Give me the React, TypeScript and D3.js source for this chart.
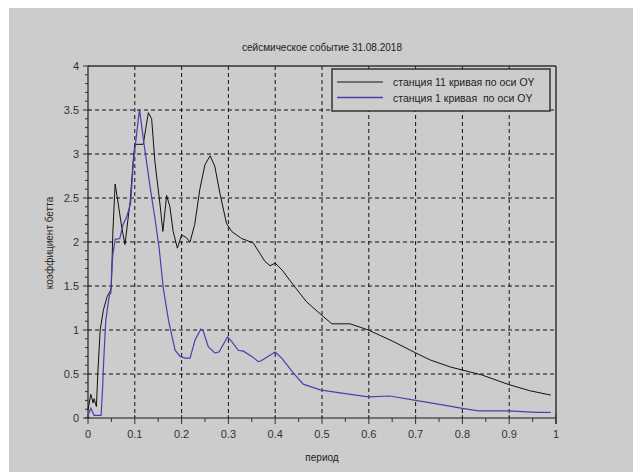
import React from 'react';
import * as d3 from 'd3';

// станция 11 (black)
const station11Period = [0, 0.006, 0.011, 0.013, 0.018, 0.021, 0.026, 0.033, 0.041, 0.048, 0.05, 0.053, 0.058, 0.065, 0.072, 0.079, 0.09, 0.097, 0.1, 0.118, 0.129, 0.136, 0.143, 0.154, 0.16, 0.168, 0.175, 0.182, 0.191, 0.2, 0.21, 0.218, 0.228, 0.239, 0.25, 0.261, 0.271, 0.282, 0.296, 0.307, 0.328, 0.353, 0.378, 0.389, 0.4, 0.415, 0.439, 0.467, 0.499, 0.521, 0.56, 0.599, 0.652, 0.7, 0.731, 0.774, 0.8, 0.841, 0.899, 0.944, 0.989];
const station11Beta = [0.09, 0.27, 0.17, 0.22, 0.13, 0.51, 1.0, 1.23, 1.38, 1.45, 1.5, 2.1, 2.66, 2.42, 2.17, 1.97, 2.46, 2.95, 3.11, 3.11, 3.47, 3.4, 2.91, 2.42, 2.12, 2.53, 2.4, 2.12, 1.93, 2.08, 2.05, 2.0, 2.2, 2.6, 2.88, 2.98, 2.86, 2.55, 2.21, 2.12, 2.04, 1.99, 1.78, 1.73, 1.76, 1.68, 1.51, 1.32, 1.17, 1.07, 1.07, 1.0, 0.87, 0.74, 0.66, 0.58, 0.545, 0.49, 0.38, 0.31, 0.26];

// станция 1 (blue)
const station1Period = [0, 0.006, 0.013, 0.028, 0.031, 0.034, 0.038, 0.043, 0.046, 0.049, 0.05, 0.053, 0.058, 0.068, 0.075, 0.083, 0.091, 0.097, 0.11, 0.118, 0.132, 0.143, 0.152, 0.161, 0.172, 0.186, 0.197, 0.207, 0.218, 0.229, 0.241, 0.246, 0.257, 0.271, 0.28, 0.298, 0.307, 0.321, 0.332, 0.35, 0.364, 0.37, 0.4, 0.414, 0.439, 0.46, 0.496, 0.546, 0.599, 0.645, 0.7, 0.745, 0.8, 0.834, 0.899, 0.959, 0.989];
const station1Beta = [0.03, 0.11, 0.03, 0.03, 0.32, 0.7, 1.11, 1.3, 1.4, 1.42, 1.6, 1.85, 2.03, 2.04, 2.2, 2.29, 2.44, 2.91, 3.51, 3.18, 2.65, 2.27, 1.93, 1.47, 1.11, 0.77, 0.7, 0.68, 0.68, 0.89, 1.01, 0.99, 0.81, 0.74, 0.75, 0.92, 0.87, 0.77, 0.76, 0.7, 0.64, 0.65, 0.75, 0.68, 0.51, 0.385, 0.32, 0.28, 0.24, 0.25, 0.2, 0.16, 0.11, 0.08, 0.08, 0.065, 0.065];

const xTicks = [0, 0.1, 0.2, 0.3, 0.4, 0.5, 0.6, 0.7, 0.8, 0.9, 1];
const yTicks = [0, 0.5, 1, 1.5, 2, 2.5, 3, 3.5, 4];
const legendLabels = ['станция 11 кривая по оси OY', 'станция 1 кривая  по оси OY'];
const seriesColors = ['#111111', '#4b3fae'];

const W = 636;
const H = 472;
const left = 88, right = 556, top = 66, bottom = 418;
const font = '"Liberation Sans", Arial, sans-serif';

export default function App() {
  const x = d3.scaleLinear().domain([0, 1]).range([left, right]);
  const y = d3.scaleLinear().domain([0, 4]).range([bottom, top]);

  const line = d3.line<[number, number]>().x((d) => x(d[0])).y((d) => y(d[1]));
  const s11 = station11Period.map((p, i) => [p, station11Beta[i]] as [number, number]);
  const s1 = station1Period.map((p, i) => [p, station1Beta[i]] as [number, number]);

  const xMinor = d3.range(0.05, 1, 0.1);
  const yMinor = d3.range(0, 4.0001, 0.1).filter((v) => Math.abs(v * 2 - Math.round(v * 2)) > 1e-6);

  return (
    <svg width={W} height={H} style={{ position: 'absolute', left: 0, top: 0 }} fontFamily={font}>
      <rect x={0} y={0} width={W} height={H} fill="#ffffff" />
      <rect x={9} y={8} width={624} height={464} fill="#cccccc" />

      <text x={(left + right) / 2} y={51} textAnchor="middle" fontSize={10} fill="#222">
        сейсмическое событие 31.08.2018
      </text>

      {/* grid */}
      <g stroke="#111" strokeWidth={1} strokeDasharray="4,3">
        {xTicks.slice(1, -1).map((t) => (
          <line key={'gx' + t} x1={x(t)} x2={x(t)} y1={top} y2={bottom} />
        ))}
        {yTicks.slice(1, -1).map((t) => (
          <line key={'gy' + t} x1={left} x2={right} y1={y(t)} y2={y(t)} />
        ))}
      </g>

      {/* frame */}
      <line x1={left} x2={right} y1={top} y2={top} stroke="#333" strokeWidth={1.5} />
      <line x1={right} x2={right} y1={top} y2={bottom + 6} stroke="#333" strokeWidth={1.5} />
      <line x1={left} x2={left} y1={top} y2={bottom} stroke="#444" strokeWidth={1.5} />
      <line x1={left - 3} x2={right} y1={bottom} y2={bottom} stroke="#555" strokeWidth={1.5} />

      {/* y ticks */}
      <g stroke="#333" strokeWidth={1}>
        {yTicks.map((t) => (
          <line key={'yt' + t} x1={left - 5} x2={left + 2} y1={y(t)} y2={y(t)} />
        ))}
        {yMinor.map((t) => (
          <line key={'ym' + t} x1={left - 3} x2={left} y1={y(t)} y2={y(t)} />
        ))}
        {xTicks.map((t) => (
          <line key={'xt' + t} x1={x(t)} x2={x(t)} y1={bottom - 3} y2={bottom + 6} />
        ))}
        {xMinor.map((t) => (
          <line key={'xm' + t} x1={x(t)} x2={x(t)} y1={bottom} y2={bottom + 4} />
        ))}
      </g>

      <g fontSize={11} fill="#333">
        {yTicks.map((t) => (
          <text key={'yl' + t} x={left - 9} y={y(t) + 4} textAnchor="end">
            {String(t)}
          </text>
        ))}
        {xTicks.map((t) => (
          <text key={'xl' + t} x={x(t)} y={bottom + 20} textAnchor="middle">
            {String(t)}
          </text>
        ))}
      </g>

      <text x={(left + right) / 2} y={461} textAnchor="middle" fontSize={10} fill="#222">
        период
      </text>
      <text
        transform={`translate(53, ${(top + bottom) / 2 + 1}) rotate(-90)`}
        textAnchor="middle"
        fontSize={10}
        fill="#222"
      >
        коэффициент бетта
      </text>

      {/* curves */}
      <path d={line(s11) ?? ''} fill="none" stroke={seriesColors[0]} strokeWidth={1} />
      <path d={line(s1) ?? ''} fill="none" stroke={seriesColors[1]} strokeWidth={1.2} />

      {/* legend */}
      <rect x={332} y={69} width={218} height={42} fill="#cccccc" stroke="#333" strokeWidth={1.5} />
      {legendLabels.map((lab, i) => (
        <g key={lab} transform={`translate(0, ${82 + i * 15.5})`}>
          <line x1={337} x2={383} y1={0} y2={0} stroke={seriesColors[i]} strokeWidth={i === 1 ? 1.5 : 1} />
          <text x={393} y={4} fontSize={10.5} fill="#222" style={{ whiteSpace: 'pre' }}>
            {lab}
          </text>
        </g>
      ))}
    </svg>
  );
}
